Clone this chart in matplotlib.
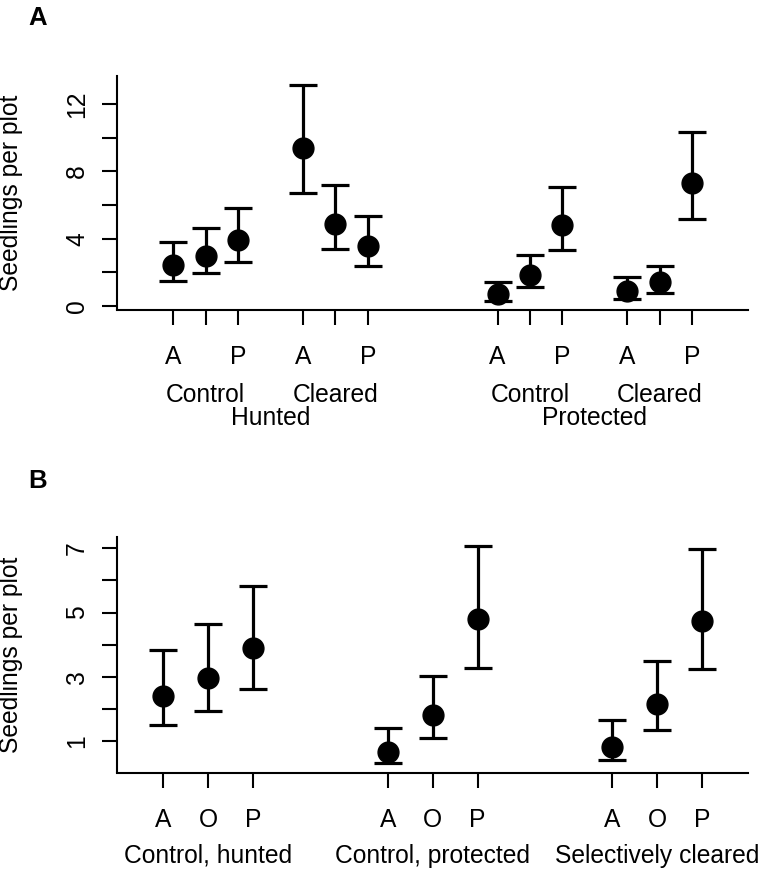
import numpy as np
import matplotlib.pyplot as plt
from matplotlib import transforms

plt.rcParams['font.family'] = ['Liberation Sans', 'DejaVu Sans']

# panel A: seedlings per plot by hunting and clearing treatment
a_pos = [1, 2, 3, 5, 6, 7, 11, 12, 13, 15, 16, 17]
a_mean = [2.41, 2.98, 3.90, 9.38, 4.88, 3.57, 0.70, 1.85, 4.80, 0.91, 1.41, 7.32]
a_lower = [1.51, 1.95, 2.62, 6.70, 3.37, 2.38, 0.30, 1.12, 3.30, 0.43, 0.79, 5.16]
a_upper = [3.83, 4.63, 5.83, 13.13, 7.18, 5.35, 1.42, 3.04, 7.06, 1.74, 2.40, 10.35]
a_ticklabels = ['A', '', 'P'] * 4
a_sublabels = ['Control', 'Cleared', 'Control', 'Cleared']
a_grouplabels = ['Hunted', 'Protected']

# panel B
b_pos = [1, 2, 3, 6, 7, 8, 11, 12, 13]
b_mean = [2.41, 2.98, 3.90, 0.67, 1.83, 4.80, 0.83, 2.17, 4.73]
b_lower = [1.51, 1.95, 2.62, 0.31, 1.11, 3.28, 0.41, 1.34, 3.23]
b_upper = [3.83, 4.63, 5.83, 1.42, 3.02, 7.06, 1.65, 3.49, 6.97]
b_ticklabels = ['A', 'O', 'P'] * 3
b_grouplabels = ['Control, hunted', 'Control, protected', 'Selectively cleared']

W, H = 764, 874
FS = 17.7


def style_axes(ax):
    for s in ['top', 'right']:
        ax.spines[s].set_visible(False)
    for s in ['left', 'bottom']:
        ax.spines[s].set_linewidth(1.5)
    ax.tick_params(axis='both', direction='out', length=10.8, width=1.5,
                   labelsize=FS, colors='black')
    ax.tick_params(axis='x', pad=15.0)
    ax.tick_params(axis='y', pad=9.5, labelrotation=90)
    plt.setp(ax.get_yticklabels(), va='center')
    ax.set_ylabel('Seedlings per plot', fontsize=FS)
    ax.yaxis.set_label_coords(-0.149, 0.5)


def draw_points(ax, pos, mean, lower, upper):
    mean = np.array(mean)
    yerr = [mean - np.array(lower), np.array(upper) - mean]
    ax.errorbar(pos, mean, yerr=yerr, fmt='o', color='black', ms=15,
                elinewidth=2.3, capsize=10, capthick=2.3, clip_on=False)


def px_axes(fig, left, top, right, bottom):
    return fig.add_axes([left / W, 1 - bottom / H, (right - left) / W, (bottom - top) / H])


fig = plt.figure(figsize=(W / 100, H / 100), dpi=100)

# ---- panel A ----
ax1 = px_axes(fig, 117.3, 76, 748, 309.5)
draw_points(ax1, a_pos, a_mean, a_lower, a_upper)
ax1.set_xlim(-0.72, 18.72)
ax1.set_ylim(-0.21, 13.68)
ax1.set_xticks(a_pos, a_ticklabels)
ax1.set_yticks([0, 2, 4, 6, 8, 10, 12], ['0', '', '4', '', '8', '', '12'])
style_axes(ax1)

tr1 = transforms.blended_transform_factory(ax1.transData, fig.transFigure)
sub_x = np.array(a_pos).reshape(-1, 3).mean(axis=1)
for x, lab in zip(sub_x, a_sublabels):
    ax1.text(x, 1 - 402 / H, lab, transform=tr1, ha='center', va='baseline', fontsize=FS)
grp_x = sub_x.reshape(-1, 2).mean(axis=1)
for x, lab in zip(grp_x, a_grouplabels):
    ax1.text(x, 1 - 425 / H, lab, transform=tr1, ha='center', va='baseline', fontsize=FS)

# ---- panel B ----
ax2 = px_axes(fig, 117.3, 537.5, 748, 772.5)
draw_points(ax2, b_pos, b_mean, b_lower, b_upper)
ax2.set_xlim(-0.02, 14.02)
ax2.set_ylim(0.03, 7.33)
ax2.set_xticks(b_pos, b_ticklabels)
ax2.set_yticks([1, 2, 3, 4, 5, 6, 7], ['1', '', '3', '', '5', '', '7'])
style_axes(ax2)

tr2 = transforms.blended_transform_factory(ax2.transData, fig.transFigure)
for x, lab in zip(np.array(b_pos).reshape(-1, 3).mean(axis=1), b_grouplabels):
    ax2.text(x, 1 - 863 / H, lab, transform=tr2, ha='center', va='baseline', fontsize=FS)

fig.text(28 / W, 1 - 25 / H, 'A', fontsize=18.5, fontweight='bold', va='baseline', ha='left')
fig.text(28 / W, 1 - 488 / H, 'B', fontsize=18.5, fontweight='bold', va='baseline', ha='left')

fig.savefig('out.png', dpi=100)
